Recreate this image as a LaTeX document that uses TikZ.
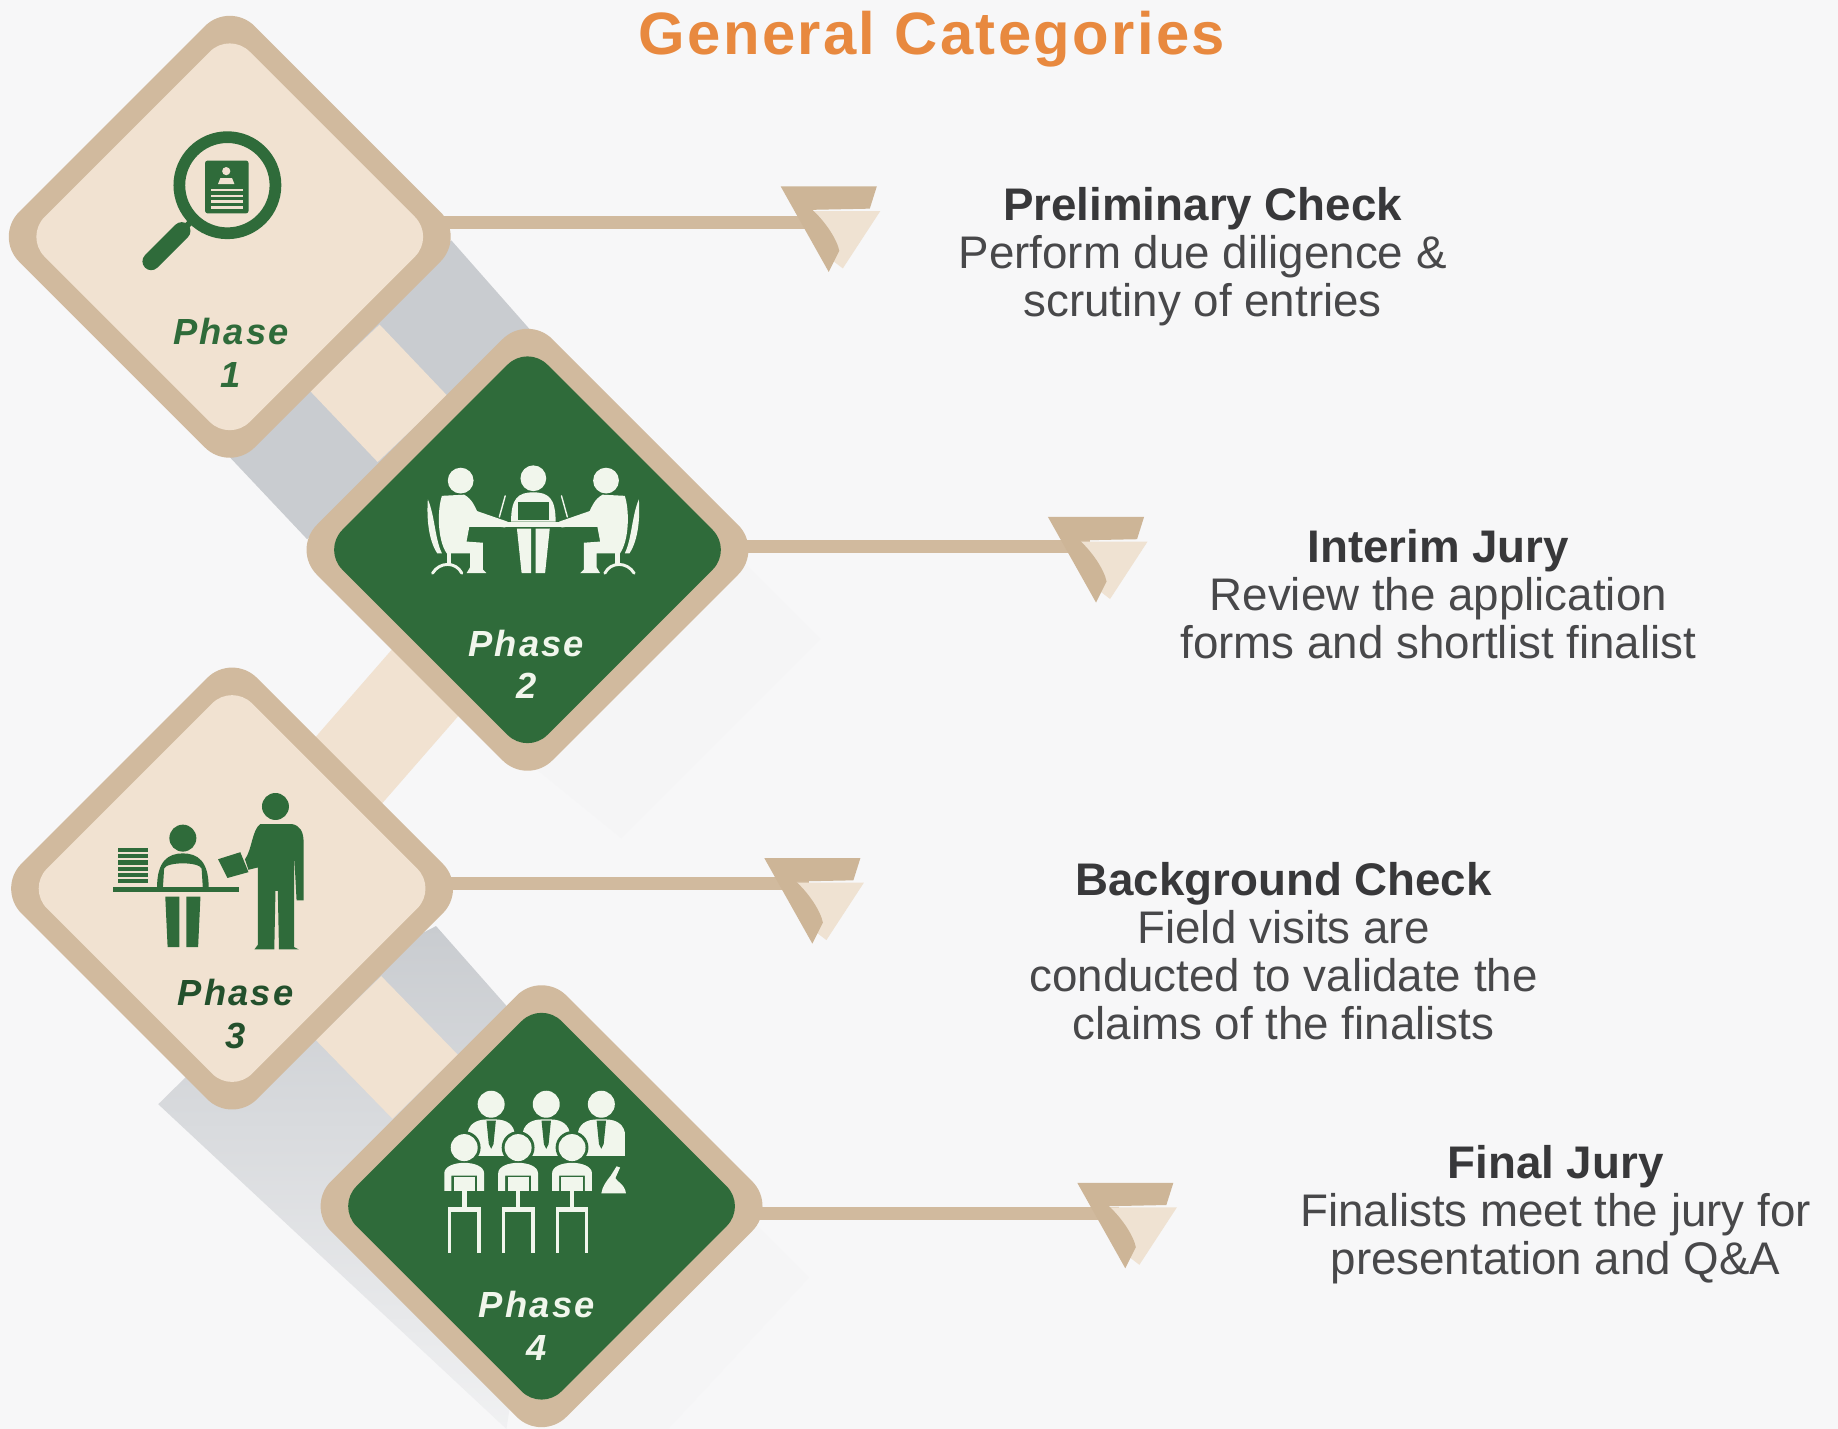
\documentclass[tikz,border=0pt]{standalone}
\usepackage{fontspec}
\setmainfont{Liberation Sans}
\newfontfamily\phasefont[LetterSpace=6]{Liberation Sans}
\newfontfamily\titlefont[LetterSpace=4]{Liberation Sans}
\usetikzlibrary{shapes.geometric,backgrounds}
\definecolor{bgc}{HTML}{F7F7F8}
\definecolor{tan}{HTML}{D1BA9E}
\definecolor{cream}{HTML}{F1E2D1}
\definecolor{leaf}{HTML}{2F6B3A}
\definecolor{iconw}{HTML}{F1F6EC}
\definecolor{greyband}{HTML}{C9CCD0}
\definecolor{orangec}{HTML}{E8893F}
\definecolor{headc}{HTML}{38383A}
\definecolor{bodyc}{HTML}{48484A}
\definecolor{ardark}{HTML}{CDB597}
\definecolor{arlight}{HTML}{EFE2D2}
\definecolor{faint}{HTML}{F5F5F6}
\tikzset{
  outerd/.style={diamond,aspect=1,inner sep=0pt,minimum width=402pt,minimum height=402pt,fill=tan,rounded corners=30pt},
  innerd/.style={diamond,aspect=1,inner sep=0pt,minimum width=350pt,minimum height=350pt,fill=#1,rounded corners=24pt},
  phase/.style={align=center,text=#1,font=\phasefont\bfseries\itshape\fontsize{31}{36}\selectfont,inner sep=0pt},
  desc/.style={align=center,text=bodyc,font=\fontsize{39}{41}\selectfont,inner sep=0pt},
  conn/.style={draw=tan,line width=11pt},
  bandc/.style={draw=cream,line width=#1},
  arrowhd/.pic={
    \fill[arlight] (25,21)--(85,21)--(53,70)--(40,60)--cycle;
    \fill[ardark] (0,0)--(82,0)--(76,19)--(27,20) .. controls (38,30) and (48,45) .. (50,55)--(41,73)--cycle;
  },
  seated/.pic={
    \fill (0,0) circle (11);
    \fill (-16,13)--(3,12) .. controls (10,16) and (12,22) .. (14,26)--(40,35)--(38,40)--(8,36)--(5,52)--(19,53)--(19,76)--(22,79)--(5,79)--(8,74)--(8,62)--(-12,62) .. controls (-20,50) and (-20,25) .. (-16,13)--cycle;
    \fill (-28,16) .. controls (-22,30) and (-22,50) .. (-16,62)--(-20,62) .. controls (-28,50) and (-29,30) .. (-28,16)--cycle;
    \fill (-12,62) rectangle (-8,72);
    \draw[line width=2.5pt,fill=none] (-24,79) .. controls (-18,69) and (-4,69) .. (1,79);
  },
  frontp/.pic={
    \fill (0,0) circle (11.5);
    \fill (-17,37)--(-17,22) .. controls (-17,10) and (17,10) .. (17,22)--(17,37)--(11,37)--(11,24)--(-11,24)--(-11,37)--cycle;
    \fill (-9,25) rectangle (9,37);
    \fill (-2,37) rectangle (2,52);
    \fill (-14,51) rectangle (14,55);
    \fill (-14,51) rectangle (-11,90);
    \fill (11,51) rectangle (14,90);
  },
  backp/.pic={
    \fill (0,0) circle (11.5);
    \fill (-20,44)--(-20,24) .. controls (-18,14) and (-8,13) .. (-4,13)--(4,13) .. controls (8,13) and (18,14) .. (20,24)--(20,44)--cycle;
  },
}
\begin{document}
\begin{tikzpicture}[x=1pt,y=-1pt]
\useasboundingbox (0,0) rectangle (1568,1219);
% diamonds
\node[outerd] (d1) at (196,202) {};
\node[outerd] (d2) at (450,469) {};
\node[outerd] (d3) at (198,758) {};
\node[outerd] (d4) at (462,1029) {};
\node[innerd=cream] (i1) at (d1) {};
\node[innerd=leaf] (i2) at (d2) {};
\node[innerd=cream] (i3) at (d3) {};
\node[innerd=leaf] (i4) at (d4) {};
% free ends of connectors
\coordinate (e1) at (700,190);
\coordinate (e2) at (930,466);
\coordinate (e3) at (690,754);
\coordinate (e4) at (955,1035);
\begin{scope}[on background layer]
  \fill[bgc] (0,0) rectangle (1568,1219);
  \fill[faint] (625,470)--(700,545)--(530,715)--(450,650)--cycle;
  \fill[faint] (640,1040)--(690,1090)--(570,1219)--(470,1219)--cycle;
  \fill[greyband] (196,390)--(385,205)--(452,281)--(262,460)--cycle;
  \shade[top color=greyband,middle color=greyband!92!bgc,bottom color=greyband!15!bgc]
     (135,942)--(198,880)--(372,790)--(432,858)--(462,1029)--(432,1219)--cycle;
  \draw[bandc=82pt] (d1) -- (d2);
  \draw[bandc=80pt] ([xshift=2pt,yshift=-11pt]d2.center) -- ([xshift=2pt,yshift=-11pt]d3.center);
  \draw[bandc=78pt] (d3) -- (d4);
  \draw[conn] (d1.center |- e1) -- (e1);
  \draw[conn] (d2.center |- e2) -- (e2);
  \draw[conn] (d3.center |- e3) -- (e3);
  \draw[conn] (d4.center |- e4) -- (e4);
\end{scope}
\pic at (666,159) {arrowhd};
\pic at (894,441) {arrowhd};
\pic at (652,732) {arrowhd};
\pic at (919,1009) {arrowhd};
% title
\node[inner sep=0pt,text=orangec,font=\titlefont\bfseries\fontsize{51}{54}\selectfont] (title) at (795,33) {General Categories};
% phase labels
\node[phase=leaf] (p1) at (197,301) {Phase\\1};
\node[phase=iconw] (p2) at (449,567) {Phase\\2};
\node[phase=leaf!75!black] (p3) at (201,865) {Phase\\3};
\node[phase=iconw] (p4) at (458,1131) {Phase\\4};
% descriptions
\node[desc] (t1) at (1026,219) {{\bfseries\color{headc}Preliminary Check}\\Perform due diligence \&\\scrutiny of entries};
\node[desc] (t2) at (1227,507) {{\bfseries\color{headc}Interim Jury}\\Review the application\\forms and shortlist finalist};
\node[desc] (t3) at (1095,811.5) {{\bfseries\color{headc}Background Check}\\Field visits are\\conducted to validate the\\claims of the finalists};
\node[desc] (t4) at (1327,1036) {{\bfseries\color{headc}Final Jury}\\Finalists meet the jury for\\presentation and Q\&A};
% icon 1: magnifier over a profile
\draw[leaf,line width=10pt] (194,158) circle (41);
\draw[leaf,line width=5pt] (165,187) -- (152,200);
\draw[leaf,line width=15pt,line cap=round] (155,197) -- (129,223);
\fill[leaf,rounded corners=2pt] (175,137) rectangle (212,182);
\fill[cream] (193,146) circle (3.5);
\fill[cream] (186,157)--(188,152)--(198,152)--(200,157)--cycle;
\foreach \yy in {161,166,171,176} \fill[cream] (180,\yy) rectangle (207,\yy+2);
% icon 2: meeting
\begin{scope}[iconw,line cap=round]
  \pic[iconw] at (393,410) {seated};
  \pic[iconw,xscale=-1] at (517,410) {seated};
  \fill (455,408) circle (11);
  \fill (436,445) .. controls (436,425) and (442,420) .. (455,420) .. controls (468,420) and (474,425) .. (474,445)--cycle;
  \fill[leaf] (442,428) rectangle (468,444);
  \fill (394,445) rectangle (517,450);
  \fill (441,451)--(453,451)--(453,489)--(445,489)--cycle;
  \fill (469,451)--(457,451)--(457,489)--(465,489)--cycle;
  \draw[line width=1.2pt] (431,423) -- (426,441);
  \draw[line width=1.2pt] (479,423) -- (484,441);
\end{scope}
% icon 3: hand-over at a desk
\fill[leaf] (235,688) circle (11.5);
\fill[leaf] (222,703)--(249,703) .. controls (256,704) and (259,710) .. (259,718)--(259,768)--(253,768)--(251,730)--(251,808)--(255,810)--(238,810)--(237,760)--(235,760)--(234,810)--(217,810)--(220,806)--(220,740)--(212,742)--(209,733) .. controls (215,725) and (215,708) .. (222,703)--cycle;
\fill[leaf] (186,733)--(205,727)--(212,744)--(194,749)--cycle;
\foreach \yy in {723,728.5,734,739.5,745,750} \fill[leaf] (101,\yy) rectangle (126,\yy+3.5);
\fill[leaf] (156,715) circle (11.5);
\fill[leaf] (134,757) .. controls (134,735) and (143,728) .. (156,728) .. controls (169,728) and (178,735) .. (178,757)--(173,757)--(172,741) .. controls (170,735) and (142,735) .. (140,741)--(139,757)--cycle;
\fill[leaf] (96,757) rectangle (204,761);
\fill[leaf] (141,765)--(153,765)--(153,808)--(143,808)--cycle;
\fill[leaf] (171,765)--(159,765)--(159,808)--(169,808)--cycle;
% icon 4: jury panel
\begin{scope}[iconw]
  \pic[iconw] at (419,942) {backp};
  \pic[iconw] at (466,942) {backp};
  \pic[iconw] at (513,942) {backp};
  \foreach \xx in {419,466,513} {
    \fill[leaf] (\xx-4,956)--(\xx+4,956)--(\xx+2,976)--(\xx,980)--(\xx-2,976)--cycle;
  }
  \foreach \xx in {396,442,488} {
    \fill[leaf] (\xx-21,990) rectangle (\xx+21,1042);
    \fill[leaf] (\xx,979) circle (14);
  }
  \pic[iconw] at (396,979) {frontp};
  \pic[iconw] at (442,979) {frontp};
  \pic[iconw] at (488,979) {frontp};
  \fill (513,1018)--(534,1018) .. controls (533,1010) and (526,1008) .. (525,1005)--(529,996)--(526,995)--(521,1003) .. controls (517,1008) and (514,1012) .. (513,1018)--cycle;
\end{scope}
\end{tikzpicture}
\end{document}
